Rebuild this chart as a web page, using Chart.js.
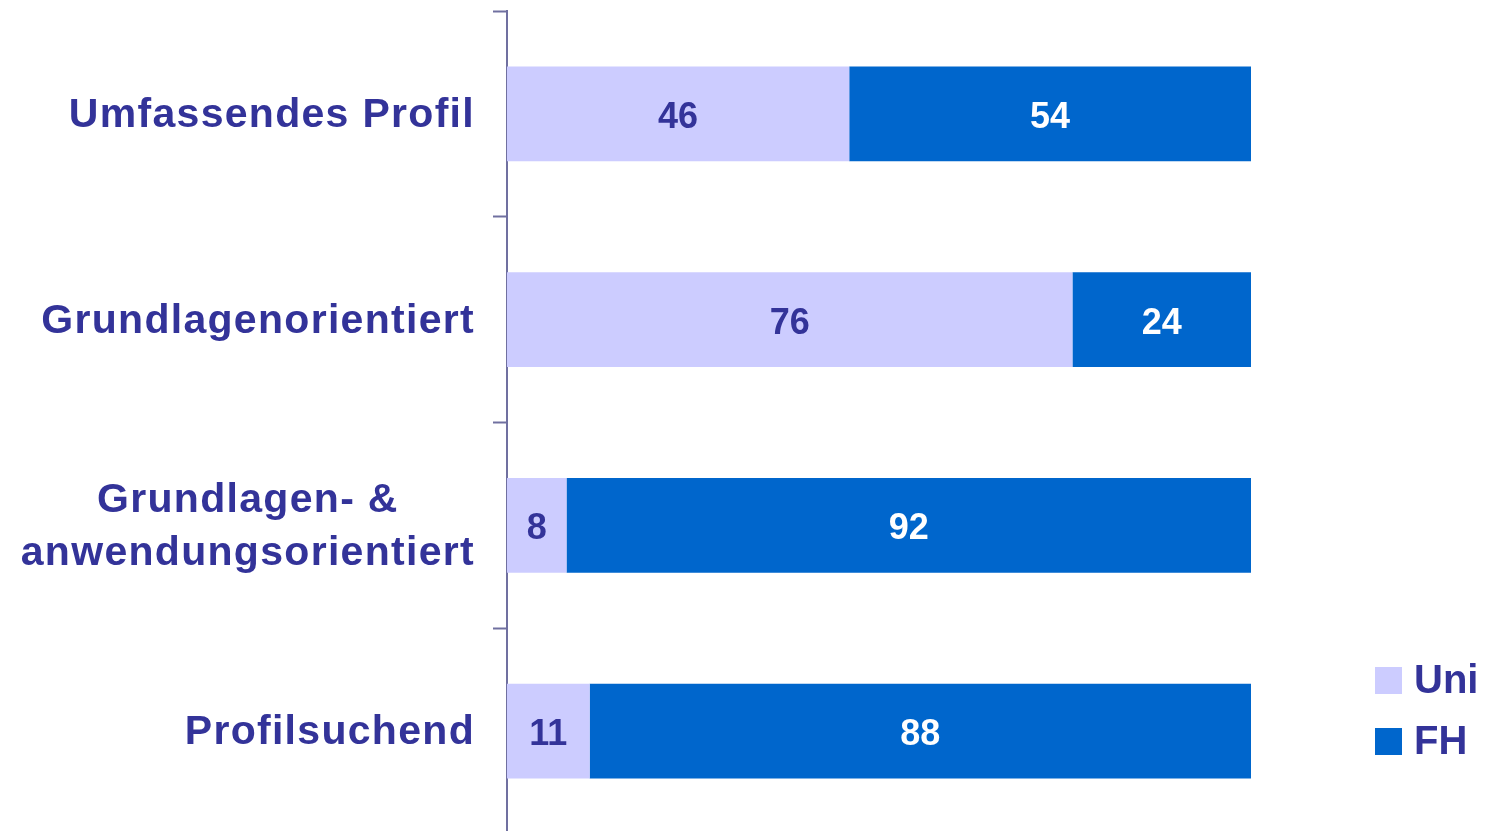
<!DOCTYPE html>
<html>
<head>
<meta charset="utf-8">
<script src="https://cdn.jsdelivr.net/npm/chart.js@4/dist/chart.umd.min.js"></script>
<style>
  html, body { margin: 0; padding: 0; background: #fff; overflow: hidden; }
  #wrap { width: 1490px; height: 840px; position: relative; }
</style>
</head>
<body>
<div id="wrap"><canvas id="profile-chart"></canvas></div>
<script>
const categories = [['Umfassendes Profil'], ['Grundlagenorientiert'], ['Grundlagen- &', 'anwendungsorientiert'], ['Profilsuchend']];
const uniValues = [46, 76, 8, 11];
const fhValues = [54, 24, 92, 88];
const seriesNames = ['Uni', 'FH'];

const textColor = '#333399';
const fontFamily = '"Liberation Sans", Arial, sans-serif';

// 100% stacked: each row is scaled to its own total, labels keep the raw values
const totals = uniValues.map((v, i) => v + fhValues[i]);
const share = (arr) => arr.map((v, i) => v / totals[i] * 100);

const rawValues = [uniValues, fhValues];

const valueLabels = {
    id: 'valueLabels',
    afterDatasetsDraw(chart) {
        const ctx = chart.ctx;
        ctx.save();
        ctx.font = 'bold 36px ' + fontFamily;
        ctx.textAlign = 'center';
        ctx.textBaseline = 'middle';
        chart.data.datasets.forEach((ds, di) => {
            chart.getDatasetMeta(di).data.forEach((bar, i) => {
                const p = bar.getCenterPoint();
                ctx.fillStyle = di === 0 ? textColor : '#ffffff';
                ctx.fillText(String(rawValues[di][i]), p.x, p.y + 4);
            });
        });
        ctx.restore();
    }
};

const categoryLabels = {
    id: 'categoryLabels',
    afterDraw(chart) {
        const ctx = chart.ctx;
        const y = chart.scales.y;
        const right = chart.chartArea.left - 32;
        ctx.save();
        ctx.font = 'bold 41px ' + fontFamily;
        ctx.letterSpacing = '1.3px';
        ctx.fillStyle = textColor;
        ctx.textAlign = 'center';
        ctx.textBaseline = 'middle';
        categories.forEach((lines, i) => {
            const cy = y.getPixelForValue(i);
            const maxW = Math.max(...lines.map(l => ctx.measureText(l).width));
            const cx = right - maxW / 2;
            const lh = 53;
            lines.forEach((l, k) => {
                ctx.fillText(l, cx, cy + (k - (lines.length - 1) / 2) * lh + 2);
            });
        });
        ctx.restore();
    }
};

const sideLegend = {
    id: 'sideLegend',
    afterDraw(chart) {
        const ctx = chart.ctx;
        const x0 = chart.chartArea.right + 124;
        const rows = [680, 741];
        ctx.save();
        ctx.font = 'bold 40px ' + fontFamily;
        ctx.textBaseline = 'middle';
        chart.data.datasets.forEach((ds, i) => {
            ctx.fillStyle = ds.backgroundColor;
            ctx.fillRect(x0, rows[i] - 13, 27, 27);
            ctx.fillStyle = textColor;
            ctx.fillText(ds.label, x0 + 39, rows[i] + 2);
        });
        ctx.restore();
    }
};

const ctx = document.getElementById('profile-chart').getContext('2d');
const chart = new Chart(ctx, {
    type: 'bar',
    data: {
        labels: categories,
        datasets: [{
            label: seriesNames[0],
            data: share(uniValues),
            backgroundColor: '#CCCCFF',
            barPercentage: 0.46,
            categoryPercentage: 1
        },
        {
            label: seriesNames[1],
            data: share(fhValues),
            backgroundColor: '#0066CC',
            barPercentage: 0.46,
            categoryPercentage: 1
        }]
    },
    options: {
        indexAxis: 'y',
        responsive: true,
        maintainAspectRatio: false,
        animation: false,
        layout: { padding: { top: 11, right: 239, bottom: 6, left: 0 } },
        plugins: {
            legend: { display: false },
            tooltip: { enabled: false }
        },
        scales: {
            x: {
                stacked: true,
                display: false,
                min: 0,
                max: 100
            },
            y: {
                stacked: true,
                ticks: { display: false },
                grid: {
                    drawOnChartArea: false,
                    tickLength: 14,
                    tickColor: '#7070A0',
                    tickWidth: 2,
                    offset: true
                },
                border: { color: '#7070A0', width: 2 },
                afterFit(scale) { scale.width = 507; }
            }
        }
    },
    plugins: [valueLabels, categoryLabels, sideLegend]
});
</script>
</body>
</html>
